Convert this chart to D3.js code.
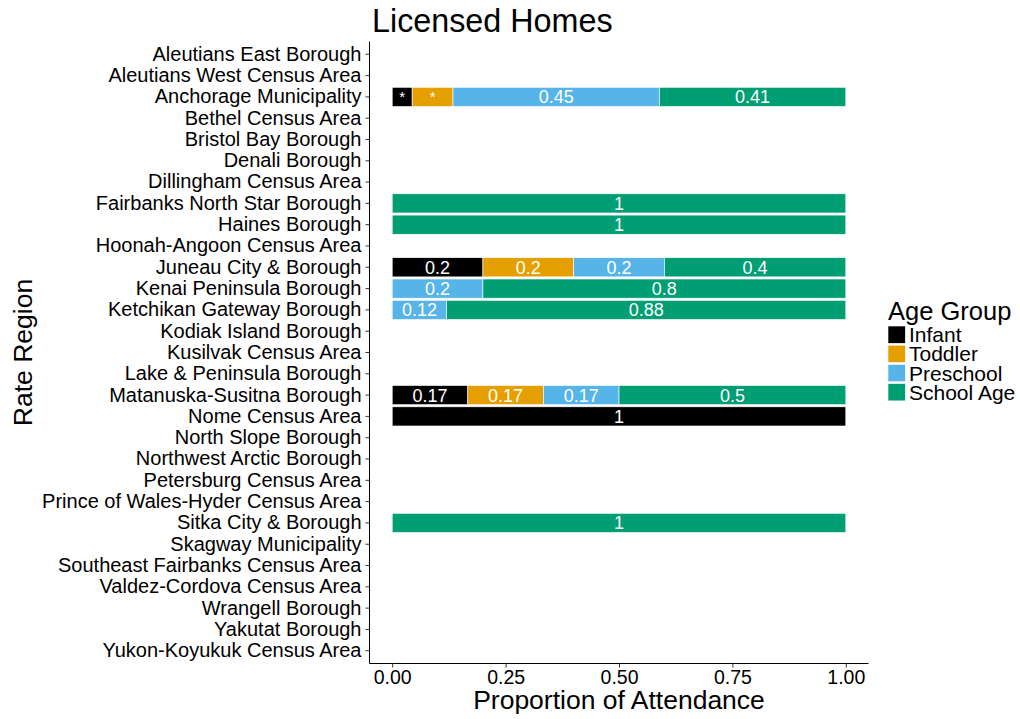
<!DOCTYPE html>
<html><head><meta charset="utf-8">
<script src="https://cdn.jsdelivr.net/npm/d3@7"></script>
<style>body{margin:0;background:#fff}svg{font-family:"Liberation Sans",Arial,sans-serif}</style>
</head><body>
<script>
const regions = ["Aleutians East Borough","Aleutians West Census Area","Anchorage Municipality","Bethel Census Area","Bristol Bay Borough","Denali Borough","Dillingham Census Area","Fairbanks North Star Borough","Haines Borough","Hoonah-Angoon Census Area","Juneau City & Borough","Kenai Peninsula Borough","Ketchikan Gateway Borough","Kodiak Island Borough","Kusilvak Census Area","Lake & Peninsula Borough","Matanuska-Susitna Borough","Nome Census Area","North Slope Borough","Northwest Arctic Borough","Petersburg Census Area","Prince of Wales-Hyder Census Area","Sitka City & Borough","Skagway Municipality","Southeast Fairbanks Census Area","Valdez-Cordova Census Area","Wrangell Borough","Yakutat Borough","Yukon-Koyukuk Census Area"];
const groups = ["Infant","Toddler","Preschool","School Age"];
const colors = ["#000000","#E69F00","#56B4E9","#009E73"];
// values per region with data: [Infant, Toddler, Preschool, School Age]
const dataRegions = ["Anchorage Municipality","Fairbanks North Star Borough","Haines Borough","Juneau City & Borough","Kenai Peninsula Borough","Ketchikan Gateway Borough","Matanuska-Susitna Borough","Nome Census Area","Sitka City & Borough"];
const infant    = [0.044, 0, 0, 0.2, 0, 0, 0.1667, 1, 0];
const toddler   = [0.090, 0, 0, 0.2, 0, 0, 0.1667, 0, 0];
const preschool = [0.455, 0, 0, 0.2, 0.2, 0.12, 0.1667, 0, 0];
const schoolAge = [0.411, 1, 1, 0.4, 0.8, 0.88, 0.5, 0, 1];
const labels = [
  ["*","*","0.45","0.41"],["","","","1"],["","","","1"],["0.2","0.2","0.2","0.4"],
  ["","","0.2","0.8"],["","","0.12","0.88"],["0.17","0.17","0.17","0.5"],["1","","",""],["","","","1"]];
const xTicks = [0,0.25,0.5,0.75,1];

const W=1020,H=719;
const svg=d3.select("body").append("svg").attr("width",W).attr("height",H);
const pl=369.5, pr=868.5, pt=41.5, pb=663.5;
const x=d3.scaleLinear().domain([0,1]).range([pl+22.7,pr-22.7]);
const y=d3.scaleBand().domain(regions).range([pt,pb]).paddingInner(0.1).paddingOuter(0.15);
const color=d3.scaleOrdinal().domain(groups).range(colors);

const series=[infant,toddler,preschool,schoolAge];
const segs=[];
dataRegions.forEach((r,i)=>{
  let acc=0;
  series.forEach((s,g)=>{
    const v=s[i];
    if(v>0){segs.push({r,g,x0:acc,x1:acc+v,label:labels[i][g]});}
    acc+=v;
  });
});
const gb=svg.append("g");
gb.selectAll("rect").data(segs).enter().append("rect")
  .attr("x",d=>x(d.x0)).attr("width",d=>x(d.x1)-x(d.x0))
  .attr("y",d=>y(d.r)).attr("height",y.bandwidth())
  .attr("fill",d=>color(groups[d.g])).attr("stroke","#ffffff").attr("stroke-width",0.6);
gb.selectAll("text").data(segs.filter(d=>d.label)).enter().append("text")
  .attr("x",d=>x((d.x0+d.x1)/2)).attr("y",d=>y(d.r)+y.bandwidth()/2)
  .attr("dy","0.36em").attr("text-anchor","middle").attr("fill","#fff")
  .attr("font-size",d=>d.label==="*"?"15px":"18px").text(d=>d.label);

// axes
const ax=svg.append("g").attr("transform",`translate(0,${pb})`).call(d3.axisBottom(x).tickValues(xTicks).tickFormat(d3.format(".2f")).tickSize(4).tickSizeOuter(0).tickPadding(3));
ax.select(".domain").attr("d",`M${pl},0H${pr}`).attr("stroke","#000");
ax.selectAll("text").attr("font-size","19.5px").attr("fill","#000").attr("font-family","Liberation Sans, Arial, sans-serif");
ax.selectAll(".tick line").attr("stroke","#333");
const ay=svg.append("g").attr("transform",`translate(${pl},0)`).call(d3.axisLeft(y).tickSize(4).tickSizeOuter(0).tickPadding(4));
ay.select(".domain").attr("d",`M0,${pt}V${pb}`).attr("stroke","#000");
ay.selectAll("text").attr("font-size","20px").attr("fill","#000").attr("font-family","Liberation Sans, Arial, sans-serif");
ay.selectAll(".tick line").attr("stroke","#333");

// titles
svg.append("text").attr("x",372).attr("y",32).attr("font-size","32.3px").text("Licensed Homes");
svg.append("text").attr("x",(pl+pr)/2).attr("y",709).attr("text-anchor","middle").attr("font-size","26.5px").text("Proportion of Attendance");
svg.append("text").attr("transform",`translate(32,${(pt+pb)/2}) rotate(-90)`).attr("text-anchor","middle").attr("font-size","26.5px").text("Rate Region");

// legend
const lg=svg.append("g");
lg.append("text").attr("x",888).attr("y",320).attr("font-size","25.5px").text("Age Group");
groups.forEach((g,i)=>{
  lg.append("rect").attr("x",888).attr("y",326+i*19.2).attr("width",17.3).attr("height",17.3).attr("fill",color(g)).attr("stroke","#fff").attr("stroke-width",0.6);
  lg.append("text").attr("x",909).attr("y",326+i*19.2+8.6).attr("dy","0.36em").attr("font-size","21px").text(g);
});
</script>
</body></html>
